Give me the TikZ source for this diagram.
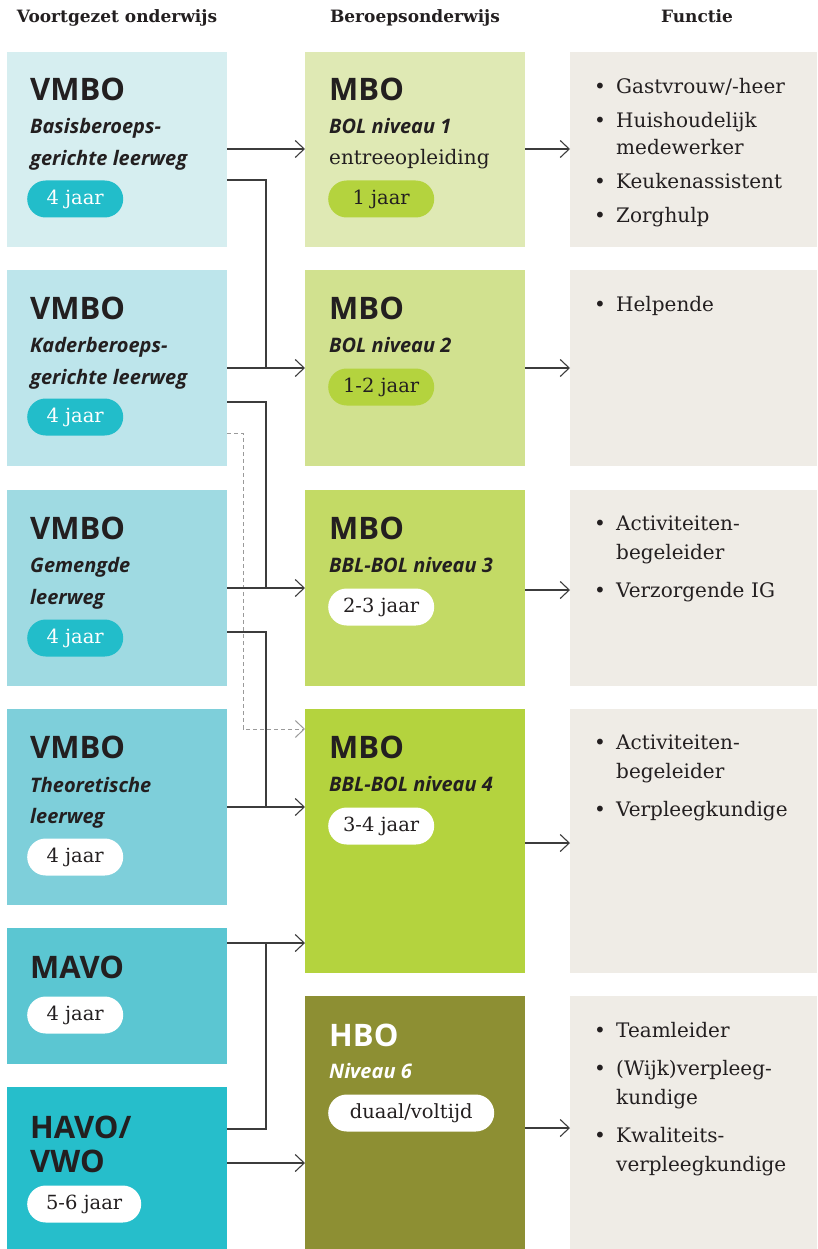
\documentclass[tikz,border=0pt]{standalone}
\usepackage{fontspec}
\setmainfont{DejaVu Serif}
\setsansfont{Open Sans}
\usetikzlibrary{arrows.meta,positioning}

\definecolor{vbone}{HTML}{D6EEF0}
\definecolor{vbtwo}{HTML}{BDE5EB}
\definecolor{vbthree}{HTML}{9FDAE2}
\definecolor{vbfour}{HTML}{7ECFDA}
\definecolor{vbfive}{HTML}{5BC6D2}
\definecolor{vbsix}{HTML}{26BECB}
\definecolor{pillteal}{HTML}{22BDCA}
\definecolor{mbone}{HTML}{DFE9B4}
\definecolor{mbtwo}{HTML}{D1E18F}
\definecolor{mbthree}{HTML}{C3DA65}
\definecolor{mbfour}{HTML}{B4D33E}
\definecolor{hbocol}{HTML}{8D8F33}
\definecolor{pillgreen}{HTML}{B4D33E}
\definecolor{fncol}{HTML}{EFECE6}
\definecolor{ink}{HTML}{231F20}
\definecolor{wirecol}{HTML}{3C3C3C}
\definecolor{dashcol}{HTML}{9A9A9A}

\newlength{\fngap}
\setlength{\fngap}{7pt}
\newcommand{\fitem}[1]{\hangindent=22pt\hangafter=1\noindent\makebox[22pt][l]{\textbullet}#1\par\vspace{\fngap}}

\tikzset{
  colbox/.style={rectangle, anchor=north west, inner sep=0pt, minimum width=220pt},
  fnbox/.style={colbox, minimum width=247pt, fill=fncol},
  boxtitle/.style={anchor=base west, inner sep=0pt, text=ink,
    font=\sffamily\bfseries\fontsize{31}{31}\selectfont},
  boxsub/.style={anchor=base west, inner sep=0pt, text=ink,
    font=\sffamily\bfseries\itshape\fontsize{20}{22}\selectfont},
  boxplain/.style={anchor=base west, inner sep=0pt, text=ink,
    font=\fontsize{20}{22}\selectfont},
  jaarpill/.style={anchor=west, rectangle, rounded corners=18.5pt, minimum height=37pt,
    inner sep=0pt, text=ink, fill=white, font=\fontsize{19.5}{20}\selectfont},
  functielist/.style={anchor=north west, inner sep=0pt, text width=220pt, align=left,
    text=ink, font=\fontsize{20}{27}\selectfont},
  functiewide/.style={functielist, font=\fontsize{20}{28.5}\selectfont,
    execute at begin node={\setlength{\fngap}{10pt}}},
  colhead/.style={anchor=base, inner sep=0pt, text=ink,
    font=\bfseries\fontsize{17}{19}\selectfont},
  link/.style={draw=wirecol, line width=1.1pt},
  linkarr/.style={link, -{Straight Barb[length=9pt,width=17pt]}},
  dashlink/.style={draw=dashcol, line width=1pt, dash pattern=on 4pt off 3pt,
    -{Straight Barb[length=9pt,width=17pt]}},
}

\begin{document}
\begin{tikzpicture}[x=1pt,y=-1pt]
  \useasboundingbox (0,0) rectangle (817,1249);

  % column heads
  \node[colhead] (hvo) at (117,23) {Voortgezet onderwijs};
  \node[colhead] (hbe) at (415,23) {Beroepsonderwijs};
  \node[colhead] (hfu) at (697,23) {Functie};

  % voortgezet onderwijs
  \node[colbox, fill=vbone, minimum height=195pt] (vb1) at (7,52) {};
  \node[boxtitle] (vb1t) at ([xshift=23pt,yshift=-49pt]vb1.north west) {VMBO};
  \node[boxsub] (vb1s) at ([xshift=23pt,yshift=-82pt]vb1.north west) {Basisberoeps-};
  \node[boxsub] (vb1u) at ([xshift=23pt,yshift=-114pt]vb1.north west) {gerichte leerweg};
  \node[jaarpill, fill=pillteal, text=white, minimum width=96pt] (vb1p)
    at ([xshift=20pt,yshift=-147pt]vb1.north west) {4 jaar};

  \node[colbox, fill=vbtwo, minimum height=196pt] (vb2) at (7,270) {};
  \node[boxtitle] (vb2t) at ([xshift=23pt,yshift=-49pt]vb2.north west) {VMBO};
  \node[boxsub] (vb2s) at ([xshift=23pt,yshift=-82pt]vb2.north west) {Kaderberoeps-};
  \node[boxsub] (vb2u) at ([xshift=23pt,yshift=-114pt]vb2.north west) {gerichte leerweg};
  \node[jaarpill, fill=pillteal, text=white, minimum width=96pt] (vb2p)
    at ([xshift=20pt,yshift=-147pt]vb2.north west) {4 jaar};

  \node[colbox, fill=vbthree, minimum height=196pt] (vb3) at (7,490) {};
  \node[boxtitle] (vb3t) at ([xshift=23pt,yshift=-49pt]vb3.north west) {VMBO};
  \node[boxsub] (vb3s) at ([xshift=23pt,yshift=-82pt]vb3.north west) {Gemengde};
  \node[boxsub] (vb3u) at ([xshift=23pt,yshift=-114pt]vb3.north west) {leerweg};
  \node[jaarpill, fill=pillteal, text=white, minimum width=96pt] (vb3p)
    at ([xshift=20pt,yshift=-148pt]vb3.north west) {4 jaar};

  \node[colbox, fill=vbfour, minimum height=196pt] (vb4) at (7,709) {};
  \node[boxtitle] (vb4t) at ([xshift=23pt,yshift=-49pt]vb4.north west) {VMBO};
  \node[boxsub] (vb4s) at ([xshift=23pt,yshift=-83pt]vb4.north west) {Theoretische};
  \node[boxsub] (vb4u) at ([xshift=23pt,yshift=-114pt]vb4.north west) {leerweg};
  \node[jaarpill, minimum width=96pt] (vb4p)
    at ([xshift=20pt,yshift=-148pt]vb4.north west) {4 jaar};

  \node[colbox, fill=vbfive, minimum height=136pt] (vb5) at (7,928) {};
  \node[boxtitle] (vb5t) at ([xshift=23pt,yshift=-50pt]vb5.north west) {MAVO};
  \node[jaarpill, minimum width=96pt] (vb5p)
    at ([xshift=20pt,yshift=-87pt]vb5.north west) {4 jaar};

  \node[colbox, fill=vbsix, minimum height=162pt] (vb6) at (7,1087) {};
  \node[boxtitle] (vb6t) at ([xshift=23pt,yshift=-51pt]vb6.north west) {HAVO/};
  \node[boxtitle] (vb6u) at ([xshift=23pt,yshift=-85pt]vb6.north west) {VWO};
  \node[jaarpill, minimum width=114pt] (vb6p)
    at ([xshift=20pt,yshift=-117pt]vb6.north west) {5-6 jaar};

  % beroepsonderwijs
  \node[colbox, fill=mbone, minimum height=195pt] (mb1) at (305,52) {};
  \node[boxtitle] (mb1t) at ([xshift=24pt,yshift=-49pt]mb1.north west) {MBO};
  \node[boxsub] (mb1s) at ([xshift=24pt,yshift=-82pt]mb1.north west) {BOL niveau 1};
  \node[boxplain] (mb1u) at ([xshift=24pt,yshift=-113pt]mb1.north west) {entreeopleiding};
  \node[jaarpill, fill=pillgreen, minimum width=106pt] (mb1p)
    at ([xshift=23pt,yshift=-147pt]mb1.north west) {1 jaar};

  \node[colbox, fill=mbtwo, minimum height=196pt] (mb2) at (305,270) {};
  \node[boxtitle] (mb2t) at ([xshift=24pt,yshift=-49pt]mb2.north west) {MBO};
  \node[boxsub] (mb2s) at ([xshift=24pt,yshift=-82pt]mb2.north west) {BOL niveau 2};
  \node[jaarpill, fill=pillgreen, minimum width=106pt] (mb2p)
    at ([xshift=23pt,yshift=-117pt]mb2.north west) {1-2 jaar};

  \node[colbox, fill=mbthree, minimum height=196pt] (mb3) at (305,490) {};
  \node[boxtitle] (mb3t) at ([xshift=24pt,yshift=-49pt]mb3.north west) {MBO};
  \node[boxsub] (mb3s) at ([xshift=24pt,yshift=-82pt]mb3.north west) {BBL-BOL niveau 3};
  \node[jaarpill, minimum width=106pt] (mb3p)
    at ([xshift=23pt,yshift=-117pt]mb3.north west) {2-3 jaar};

  \node[colbox, fill=mbfour, minimum height=264pt] (mb4) at (305,709) {};
  \node[boxtitle] (mb4t) at ([xshift=24pt,yshift=-49pt]mb4.north west) {MBO};
  \node[boxsub] (mb4s) at ([xshift=24pt,yshift=-82pt]mb4.north west) {BBL-BOL niveau 4};
  \node[jaarpill, minimum width=106pt] (mb4p)
    at ([xshift=23pt,yshift=-117pt]mb4.north west) {3-4 jaar};

  \node[colbox, fill=hbocol, minimum height=253pt] (hbo) at (305,996) {};
  \node[boxtitle, text=white] (hbot) at ([xshift=24pt,yshift=-50pt]hbo.north west) {HBO};
  \node[boxsub, text=white] (hbos) at ([xshift=24pt,yshift=-82pt]hbo.north west) {Niveau 6};
  \node[jaarpill, minimum width=166pt] (hbop)
    at ([xshift=23pt,yshift=-117pt]hbo.north west) {duaal/voltijd};

  % functie
  \node[fnbox, minimum height=195pt] (fn1) at (570,52) {};
  \node[functielist] (fn1l) at ([xshift=24pt,yshift=-26pt]fn1.north west)
    {\fitem{Gastvrouw/-heer}\fitem{Huishoudelijk\newline medewerker}%
     \fitem{Keukenassistent}\fitem{Zorghulp}};
  \node[fnbox, minimum height=196pt] (fn2) at (570,270) {};
  \node[functielist] (fn2l) at ([xshift=24pt,yshift=-26pt]fn2.north west)
    {\fitem{Helpende}};
  \node[fnbox, minimum height=196pt] (fn3) at (570,490) {};
  \node[functiewide] (fn3l) at ([xshift=24pt,yshift=-26pt]fn3.north west)
    {\fitem{Activiteiten-\newline begeleider}\fitem{Verzorgende IG}};
  \node[fnbox, minimum height=264pt] (fn4) at (570,709) {};
  \node[functiewide] (fn4l) at ([xshift=24pt,yshift=-26pt]fn4.north west)
    {\fitem{Activiteiten-\newline begeleider}\fitem{Verpleegkundige}};
  \node[fnbox, minimum height=253pt] (fn5) at (570,996) {};
  \node[functiewide] (fn5l) at ([xshift=24pt,yshift=-26pt]fn5.north west)
    {\fitem{Teamleider}\fitem{(Wijk)verpleeg-\newline kundige}%
     \fitem{Kwaliteits-\newline verpleegkundige}};

  % entry points
  \coordinate (bus) at (266,0);
  \coordinate (dbus) at (243,0);
  \coordinate (mb2in) at ([yshift=-98pt]mb2.north west);
  \coordinate (mb3in) at ([yshift=-98pt]mb3.north west);
  \coordinate (mb4top) at ([yshift=-20pt]mb4.north west);
  \coordinate (mb4in) at ([yshift=-98pt]mb4.north west);
  \coordinate (mb4low) at ([yshift=-234pt]mb4.north west);
  \coordinate (hboin) at ([yshift=-167pt]hbo.north west);

  % connectors
  \draw[dashlink] ([yshift=-163pt]vb2.north east) -| (dbus |- mb4top) -- (mb4top);
  \draw[linkarr] ([yshift=-97pt]vb1.north east) -- ([yshift=-97pt]mb1.north west);
  \draw[link] ([yshift=-128pt]vb1.north east) -| (bus |- mb2in);
  \draw[linkarr] ([yshift=-98pt]vb2.north east) -- (mb2in);
  \draw[link] ([yshift=-132pt]vb2.north east) -| (bus |- mb3in);
  \draw[linkarr] ([yshift=-98pt]vb3.north east) -- (mb3in);
  \draw[link] ([yshift=-142pt]vb3.north east) -| (bus |- mb4in);
  \draw[linkarr] ([yshift=-98pt]vb4.north east) -- (mb4in);
  \draw[linkarr] ([yshift=-15pt]vb5.north east) -- (mb4low);
  \draw[link] ([yshift=-42pt]vb6.north east) -| (bus |- mb4low);
  \draw[linkarr] ([yshift=-76pt]vb6.north east) -- (hboin);

  \draw[linkarr] ([yshift=-97pt]mb1.north east) -- ([yshift=-97pt]fn1.north west);
  \draw[linkarr] ([yshift=-98pt]mb2.north east) -- ([yshift=-98pt]fn2.north west);
  \draw[linkarr] ([yshift=-100pt]mb3.north east) -- ([yshift=-100pt]fn3.north west);
  \draw[linkarr] ([yshift=-134pt]mb4.north east) -- ([yshift=-134pt]fn4.north west);
  \draw[linkarr] ([yshift=-132pt]hbo.north east) -- ([yshift=-132pt]fn5.north west);
\end{tikzpicture}
\end{document}
